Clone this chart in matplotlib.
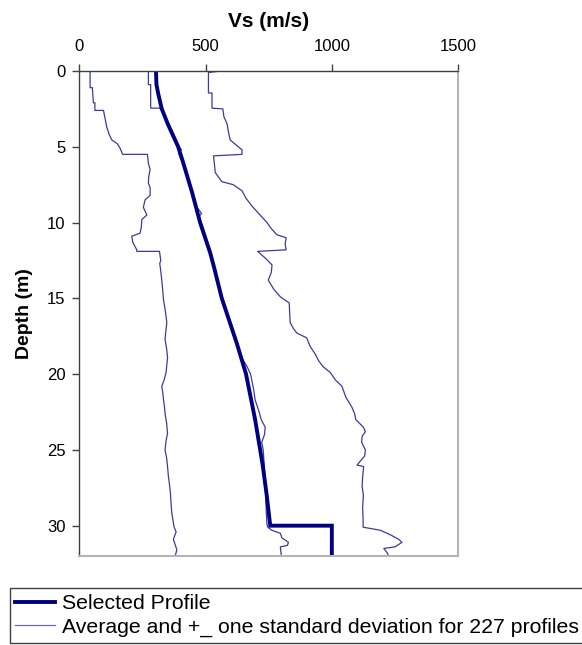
import matplotlib
matplotlib.use("Agg")
import matplotlib.pyplot as plt

plt.rcParams['font.family'] = ['Liberation Sans', 'DejaVu Sans']

# Selected design profile (depth m, Vs m/s)
sel_depth = [0, 0.9, 1.5, 2.5, 3.5, 5, 6, 7, 8, 9, 10, 11, 12, 13, 14, 15, 16, 17, 18,
             19, 20, 21, 22, 23, 24, 25, 26, 27, 28, 29, 30, 30, 32]
sel_vs = [303, 305, 312, 326, 350, 391, 410, 428, 446, 462, 478, 498, 518, 534, 549,
          564, 584, 604, 624, 642, 660, 672, 684, 696, 706, 716, 726, 734, 742, 749, 756, 1000, 1000]

# Average of the 227 profiles
avg_depth = [0, 0.9, 0.9, 2.45, 2.45, 3, 4, 5, 5.2, 5.4, 6, 7, 8, 9, 9.4, 9.6, 10, 11,
             12, 13, 13.8, 14, 15, 16, 17, 17.5, 18, 18.5, 19, 19.5, 20, 20.5, 21, 21.7,
             22.5, 23, 23.5, 24, 24.5, 25, 26, 27, 28, 29, 29.9, 30.1, 30.3, 30.5, 30.8,
             31.1, 31.3, 31.4, 32]
avg_vs = [273, 273, 282, 282, 322, 340, 368, 395, 404, 392, 408, 428, 446, 466, 484, 472,
          482, 502, 520, 536, 542, 548, 565, 585, 603, 614, 626, 636, 646, 664, 678, 684,
          690, 696, 712, 720, 736, 733, 722, 728, 732, 736, 738, 740, 743, 746, 762, 796,
          802, 828, 824, 796, 800]

# Average minus one standard deviation
lo_depth = [0, 1.1, 1.1, 1.6, 2.1, 2.1, 2.6, 2.6, 3.1, 3.7, 4.2, 4.55, 4.8, 5.1, 5.5,
            5.5, 6.1, 6.5, 7.0, 7.4, 7.7, 8.2, 8.5, 9.0, 9.5, 9.8, 10.3, 10.7, 10.9, 11.3,
            11.8, 11.9, 11.9, 12.5, 12.7, 13.2, 13.8, 14.5, 15.1, 15.8, 16.6, 17.2, 17.7,
            18.3, 18.9, 19.4, 19.9, 20.4, 20.8, 21.2, 21.7, 22.2, 22.6, 23.2, 23.9, 24.4,
            25, 25.5, 26.1, 26.7, 27.2, 27.8, 28.3, 28.8, 29.2, 29.8, 30.1, 30.4, 30.9,
            31.3, 31.6, 32]
lo_vs = [42, 42, 51, 53, 55, 61, 61, 95, 101, 108, 118, 128, 150, 161, 171,
         269, 273, 280, 274, 273, 280, 280, 260, 253, 267, 247, 245, 240, 207, 211,
         227, 227, 317, 322, 318, 322, 326, 330, 333, 340, 346, 342, 339,
         345, 349, 346, 343, 335, 326, 330, 333, 337, 339, 345, 349, 343,
         339, 345, 349, 352, 356, 360, 362, 364, 366, 372, 375, 383, 372,
         380, 386, 379]

# Average plus one standard deviation
hi_depth = [0, 0.1, 1.45, 1.45, 2.45, 2.5, 3.0, 3.5, 4.0, 4.55, 5.2, 5.5, 5.6, 6.2, 6.7,
            7.3, 7.5, 7.9, 8.4, 8.9, 9.4, 10, 10.4, 10.8, 11.0, 11.4, 11.8, 11.9, 12.4,
            12.8, 13.3, 13.8, 14.4, 14.9, 15.3, 16.0, 16.6, 17.0, 17.3, 17.6, 18.2, 18.7,
            19.1, 19.5, 19.9, 20.4, 20.8, 21.5, 22.2, 22.6, 23.0, 23.5, 23.8, 24.1, 24.5,
            25.0, 25.4, 26.0, 26.1, 26.8, 27.4, 28.0, 28.8, 29.6, 30.1, 30.3, 30.6, 30.9,
            31.1, 31.4, 31.5, 31.8, 32]
hi_vs = [560, 511, 511, 525, 525, 568, 572, 585, 590, 597, 644, 644, 531, 535, 538,
         564, 609, 644, 660, 683, 710, 743, 760, 782, 819, 815, 819, 706, 740,
         763, 760, 748, 770, 796, 831, 833, 835, 848, 862, 900, 915, 935,
         947, 965, 994, 1015, 1040, 1055, 1080, 1090, 1095, 1125, 1133, 1120, 1118,
         1133, 1130, 1100, 1126, 1122, 1120, 1125, 1122, 1124, 1124, 1192, 1232, 1265,
         1278, 1250, 1206, 1220, 1225]

x_ticks = [0, 500, 1000, 1500]
y_ticks = [0, 5, 10, 15, 20, 25, 30]

thick_color = '#000080'
thin_color = '#3b3b9e'

fig = plt.figure(figsize=(5.82, 6.45), dpi=100)
ax = fig.add_axes([79.5 / 582, 1 - 556 / 645, (458 - 79.5) / 582, (556 - 71) / 645])

ax.plot(lo_vs, lo_depth, color=thin_color, lw=0.9)
ax.plot(hi_vs, hi_depth, color=thin_color, lw=0.9)
avg_line, = ax.plot(avg_vs, avg_depth, color=thin_color, lw=0.9)
sel_line, = ax.plot(sel_vs, sel_depth, color=thick_color, lw=2.8, solid_joinstyle='miter')

ax.set_xlim(0, 1500)
ax.set_ylim(32, 0)
ax.set_xticks(x_ticks)
ax.set_yticks(y_ticks)
ax.xaxis.tick_top()
ax.xaxis.set_label_position('top')
ax.tick_params(axis='both', direction='out', length=5, width=1, colors='#404040',
               labelsize=12, labelcolor='black')
ax.tick_params(axis='x', pad=7)
ax.tick_params(axis='y', pad=5)

ax.spines['top'].set_color('#404040')
ax.spines['left'].set_color('#404040')
ax.spines['top'].set_linewidth(1)
ax.spines['left'].set_linewidth(1)
ax.spines['right'].set_color('#b4b4b4')
ax.spines['bottom'].set_color('#b4b4b4')
ax.spines['right'].set_linewidth(1.5)
ax.spines['bottom'].set_linewidth(1.5)

ax.set_xlabel('Vs (m/s)', fontsize=15, fontweight='bold', labelpad=9)
ax.set_ylabel('Depth (m)', fontsize=14, fontweight='bold', labelpad=10)

leg = fig.legend([sel_line, avg_line],
                 ['Selected Profile', 'Average and +_ one standard deviation for 227 profiles'],
                 loc='lower left', bbox_to_anchor=(9.5 / 582, 2 / 645),
                 fontsize=15.3, handlelength=1.85, handletextpad=0.35, labelspacing=0.22,
                 borderpad=0.28, borderaxespad=0, fancybox=False, framealpha=1)
leg.get_frame().set_edgecolor('#404040')
leg.get_frame().set_linewidth(1)
leg.get_lines()[1].set_color('#6a6ab4')

fig.savefig('out.png', dpi=100)
